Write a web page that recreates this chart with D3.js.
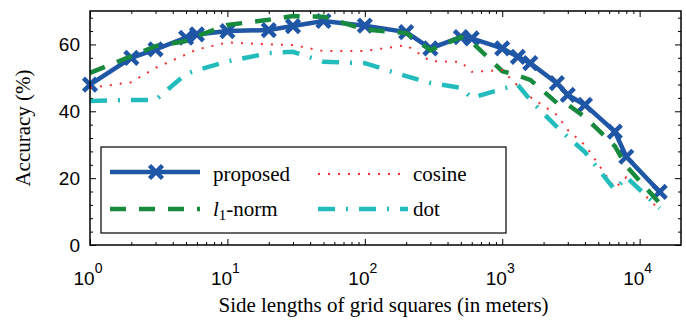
<!DOCTYPE html>
<html>
<head>
<meta charset="utf-8">
<script src="https://cdn.jsdelivr.net/npm/d3@7"></script>
<style>
body { margin: 0; background: #fff; }
</style>
</head>
<body>
<div id="chart-container"></div>
<script>
// accuracy vs grid size, log x axis, matlab-ish look
const svgWidth = 686;
const svgHeight = 323;
const margin = { top: 11, right: 5, bottom: 78, left: 90 };
const width = svgWidth - margin.left - margin.right;
const height = svgHeight - margin.top - margin.bottom;

// grid side lengths (meters)
const sizes = [1, 2, 3, 5, 6, 10, 20, 30, 50, 100, 200, 300, 500, 600, 1000, 1300, 1600, 2500, 3000, 4000, 6600, 8000, 14000];
// accuracy (%) per method
const proposed = [48, 56, 58.5, 62, 63, 64, 64.3, 65.5, 67, 65.6, 63.7, 58.8, 62.2, 61.8, 58.8, 56.3, 54.4, 48.4, 44.9, 41.9, 33.9, 26.4, 15.9];
const l1norm = [51.5, 56.5, 59.5, 61, 62.5, 65.8, 67.4, 68.5, 68.3, 64.5, 63.4, 58.3, 62.2, 60.7, 52, 50.7, 49.4, 42.5, 42, 38.3, 29.6, 23.6, 12.5];
const cosine = [47, 48.7, 53, 57, 58.5, 60.6, 60, 59.8, 58, 58, 59.8, 55, 54.8, 51.8, 52.3, 47.6, 44.3, 38.9, 34.4, 29.9, 17, 20.3, 10.5];
const dot = [43.1, 43.4, 43.4, 51.2, 52.3, 54.9, 57.4, 57.8, 54.8, 54.4, 50.5, 48.5, 47, 44, 46.7, 47.9, 43.4, 35.3, 32.3, 27.8, 16.5, 20.3, 11];

const xTicks = [1, 10, 100, 1000, 10000];
const xTickExp = ["0", "1", "2", "3", "4"];
const yTicks = [0, 20, 40, 60];

const serif = "'Liberation Serif', 'Times New Roman', serif";
const sans = "'Liberation Sans', Arial, sans-serif";

const root = d3.select("#chart-container")
    .append("svg")
    .attr("width", svgWidth)
    .attr("height", svgHeight);

const svg = root.append("g")
    .attr("transform", `translate(${margin.left},${margin.top})`);

const x = d3.scaleLog()
    .domain([1, 20000])
    .range([0, width]);

const y = d3.scaleLinear()
    .domain([0, 70])
    .range([height, 0]);

// minor ticks
let xMinor = [];
for (let p = 0; p < 5; p++) {
    for (let k = 2; k <= 9; k++) {
        let v = k * Math.pow(10, p);
        if (v < 20000) xMinor.push(v);
    }
}
let yMinor = d3.range(0, 70, 4).filter(v => v % 20 != 0);

function tickAxis(axisFn, scale, values, size, tx, ty) {
    svg.append("g")
        .attr("class", "ticks")
        .attr("transform", `translate(${tx},${ty})`)
        .call(axisFn(scale).tickValues(values).tickSize(-size).tickFormat(""))
        .call(g => g.select(".domain").remove())
        .call(g => g.selectAll("line").attr("stroke", "#000").attr("stroke-width", 1));
}

tickAxis(d3.axisBottom, x, xTicks, 6, 0, height);
tickAxis(d3.axisBottom, x, xMinor, 3, 0, height);
tickAxis(d3.axisTop, x, xTicks, 6, 0, 0);
tickAxis(d3.axisTop, x, xMinor, 3, 0, 0);
tickAxis(d3.axisLeft, y, yTicks, 6, 0, 0);
tickAxis(d3.axisLeft, y, yMinor, 3, 0, 0);
tickAxis(d3.axisRight, y, yTicks, 6, width, 0);
tickAxis(d3.axisRight, y, yMinor, 3, width, 0);

// tick labels
svg.selectAll(".ylab")
    .data(yTicks)
    .enter()
    .append("text")
    .attr("class", "ylab")
    .attr("x", -10)
    .attr("y", d => y(d) + 7)
    .attr("text-anchor", "end")
    .attr("font-family", sans)
    .attr("font-size", 19)
    .text(d => d);

const xl = svg.selectAll(".xlab")
    .data(xTicks)
    .enter()
    .append("text")
    .attr("class", "xlab")
    .attr("x", d => x(d) - 2)
    .attr("y", height + 40)
    .attr("text-anchor", "middle")
    .attr("font-family", sans)
    .attr("font-size", 19);
xl.append("tspan").text("10");
xl.append("tspan")
    .attr("dy", -12)
    .attr("font-size", 14)
    .text((d, i) => xTickExp[i]);

// series
const line = d3.line()
    .x(d => x(d[0]))
    .y(d => y(d[1]));

const series = [
    { name: "proposed", values: proposed, color: "#1f56a6", width: 4.5, dash: null },
    { name: "l1", values: l1norm, color: "#178a3e", width: 4.5, dash: "16,13" },
    { name: "cosine", values: cosine, color: "#f0302e", width: 2, dash: "2,8" },
    { name: "dot", values: dot, color: "#23bcbc", width: 4.5, dash: "17,11,2,11" }
];

const marker = "M-6.5,-6.5L6.5,6.5M-6.5,6.5L6.5,-6.5";

series.forEach(s => {
    svg.append("path")
        .datum(d3.zip(sizes, s.values))
        .attr("fill", "none")
        .attr("stroke", s.color)
        .attr("stroke-width", s.width)
        .attr("stroke-dasharray", s.dash)
        .attr("d", line);
    if (s.name == "proposed") {
        svg.selectAll(".mk")
            .data(d3.zip(sizes, s.values))
            .enter()
            .append("path")
            .attr("class", "mk")
            .attr("d", marker)
            .attr("transform", d => `translate(${x(d[0])},${y(d[1])})`)
            .attr("stroke", s.color)
            .attr("stroke-width", 4.5);
    }
});

// frame
svg.append("rect")
    .attr("x", 0)
    .attr("y", 0)
    .attr("width", width)
    .attr("height", height)
    .attr("fill", "none")
    .attr("stroke", "#000")
    .attr("stroke-width", 1.5);

// legend
const leg = root.append("g");
leg.append("rect")
    .attr("x", 101)
    .attr("y", 147)
    .attr("width", 405)
    .attr("height", 86)
    .attr("fill", "#fff")
    .attr("stroke", "#000")
    .attr("stroke-width", 1.2);

const legItems = [
    { s: series[0], lx: 110, ly: 172 },
    { s: series[1], lx: 110, ly: 209 },
    { s: series[2], lx: 318, ly: 174 },
    { s: series[3], lx: 318, ly: 209 }
];
legItems.forEach(it => {
    leg.append("line")
        .attr("x1", it.lx)
        .attr("x2", it.lx + 90)
        .attr("y1", it.ly)
        .attr("y2", it.ly)
        .attr("stroke", it.s.color)
        .attr("stroke-width", it.s.width)
        .attr("stroke-dasharray", it.s.dash);
    if (it.s.name == "proposed") {
        leg.append("path")
            .attr("d", marker)
            .attr("transform", `translate(${it.lx + 46},${it.ly})`)
            .attr("stroke", it.s.color)
            .attr("stroke-width", 4.5);
    }
});

leg.append("text").attr("x", 213).attr("y", 181).attr("font-family", serif).attr("font-size", 21).text("proposed");
const l1t = leg.append("text").attr("x", 213).attr("y", 216).attr("font-family", serif).attr("font-size", 21);
l1t.append("tspan").attr("font-style", "italic").text("l");
l1t.append("tspan").attr("dy", 4).attr("font-size", 15).text("1");
l1t.append("tspan").attr("dy", -4).text("-norm");
leg.append("text").attr("x", 413).attr("y", 181).attr("font-family", serif).attr("font-size", 21).text("cosine");
leg.append("text").attr("x", 413).attr("y", 216).attr("font-family", serif).attr("font-size", 21).text("dot");

// axis titles
root.append("text")
    .attr("transform", `translate(30,${margin.top + height / 2}) rotate(-90)`)
    .attr("text-anchor", "middle")
    .attr("font-family", serif)
    .attr("font-size", 21)
    .text("Accuracy (%)");

root.append("text")
    .attr("x", margin.left + width / 2 - 2)
    .attr("y", 312)
    .attr("text-anchor", "middle")
    .attr("font-family", serif)
    .attr("font-size", 21)
    .text("Side lengths of grid squares (in meters)");
</script>
</body>
</html>
